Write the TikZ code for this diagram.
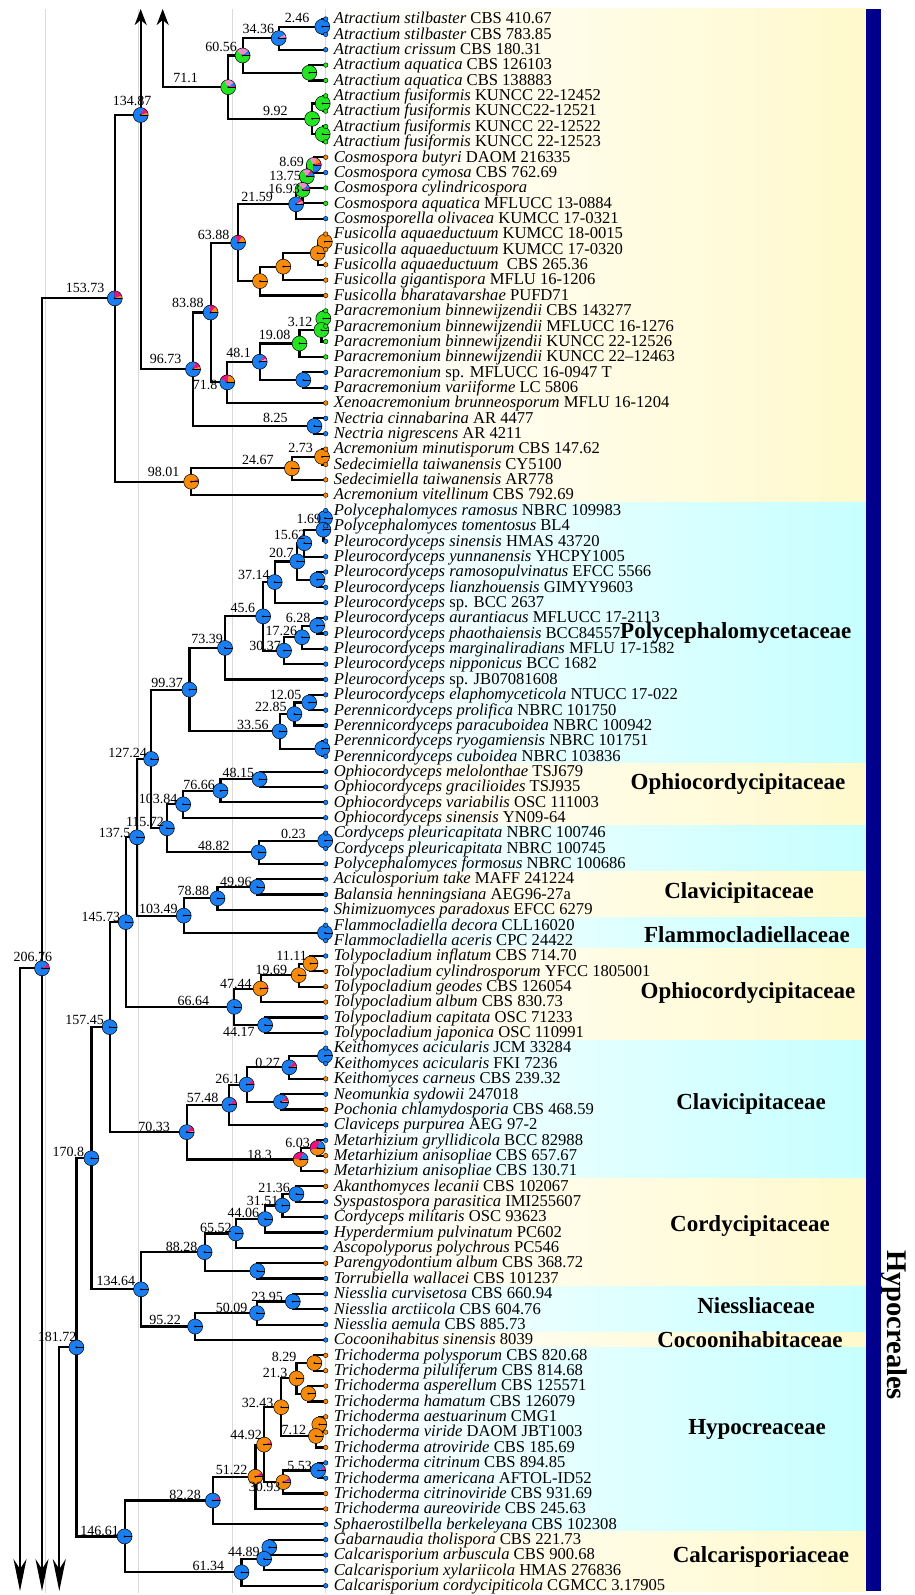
\documentclass[tikz,border=0pt]{standalone}
\usepackage{fontspec}
\setmainfont{Liberation Serif}
\usetikzlibrary{arrows.meta,calc}

\definecolor{pblue}{RGB}{26,125,240}
\definecolor{pgreen}{RGB}{36,228,36}
\definecolor{porange}{RGB}{246,138,12}
\definecolor{pmag}{RGB}{228,22,128}
\definecolor{ppink}{RGB}{238,142,200}
\definecolor{barblue}{RGB}{0,0,140}
\definecolor{bandyellow}{RGB}{255,249,204}
\definecolor{bandcyan}{RGB}{198,255,255}
\definecolor{gridgray}{RGB}{218,218,218}

\tikzset{
  branch/.style={draw=black, line width=2.2pt, line join=miter},
  uparrow/.style={branch, -{Stealth[length=16pt,width=12pt,inset=5pt]}},
  downarrow/.style={branch, -{Stealth[length=32pt,width=13pt,inset=10pt]}},
  taxon/.style={anchor=base west, inner sep=0pt, font=\fontsize{16.6}{16.6}\selectfont},
  numlab/.style={inner sep=0pt, font=\fontsize{14}{14}\selectfont},
  family/.style={inner sep=0pt, font=\bfseries\fontsize{23}{23}\selectfont},
  gridline/.style={draw=gridgray, line width=1pt},
}

% internal node: name, x position, first child, last child
\newcommand\inode[4]{\path let \p1=(#3), \p2=(#4) in ({#2*1pt},{0.5*(\y1+\y2)}) coordinate (#1);}
% elbow connectors from a node to its two children
\newcommand\kids[3]{\draw[branch] (#2) -| (#1) |- (#3);}
% ancestral-state pie: slices run clockwise from east
\newcommand\piechart[2]{%
  \begin{scope}[shift={(#1)}]
    \gdef\pieang{0}%
    \foreach \pc/\pf in {#2}{%
      \pgfmathsetmacro\pieend{\pieang-360*\pf}%
      \fill[fill=\pc] (0,0) -- (\pieang:7.5) arc[start angle=\pieang, end angle=\pieend, radius=7.5] -- cycle;
      \xdef\pieang{\pieend}%
    }%
    \draw[line width=0.5pt] (0,0) circle[radius=7.5];
    \draw[line width=0.7pt] (0,0) -- (7.5,0);
    \fill (0,0) circle[radius=1];
  \end{scope}}

\begin{document}
\begin{tikzpicture}[x=1pt,y=1pt]
\useasboundingbox (0,0) rectangle (915,-1595);
\fill[white] (0,0) rectangle (915,-1595);

% family shading bands
\foreach \ya/\yb/\bc in {9/502.84/bandyellow, 502.84/763.96/bandcyan, 763.96/825.4/bandyellow,
  825.4/871.48/bandcyan, 871.48/917.56/bandyellow, 917.56/948.28/bandcyan, 948.28/1040.44/bandyellow,
  1040.44/1178.68/bandcyan, 1178.68/1286.2/bandyellow, 1286.2/1332.28/bandcyan,
  1332.28/1347.64/bandyellow, 1347.64/1531.96/bandcyan, 1531.96/1591/bandyellow}
  \shade[left color=white, right color=\bc] (326,-\ya) rectangle (866,-\yb);

% time grid
\foreach \gx in {45.7,138.3,232.3,325.7} \draw[gridline] (\gx,-9) -- (\gx,-1593);

% order bar
\fill[barblue] (866,-9) rectangle (880.5,-1591);
\node[rotate=-90, inner sep=0pt, font=\bfseries\fontsize{28.5}{28.5}\selectfont] (order) at (894.5,-1325) {Hypocreales};

% family labels
\node[family, anchor=west] (fam1) at (620,-633.4) {Polycephalomycetaceae};
\node[family] (fam2) at (738,-784) {Ophiocordycipitaceae};
\node[family] (fam3) at (739,-893) {Clavicipitaceae};
\node[family] (fam4) at (747,-935) {Flammocladiellaceae};
\node[family] (fam5) at (748,-992.8) {Ophiocordycipitaceae};
\node[family] (fam6) at (751,-1104) {Clavicipitaceae};
\node[family] (fam7) at (750,-1226) {Cordycipitaceae};
\node[family] (fam8) at (756,-1306) {Niessliaceae};
\node[family] (fam9) at (750,-1340) {Cocoonihabitaceae};
\node[family] (fam10) at (757,-1429.8) {Hypocreaceae};
\node[family] (fam11) at (761,-1557.3) {Calcarisporiaceae};

% tips
\foreach \i in {1,...,103} \coordinate (L\i) at (325.7,{-(3.64+15.36*\i)});

% internal nodes
\inode{nA1}{322.3}{L1}{L2}
\inode{nA2}{278.7}{nA1}{L3}
\inode{nA3}{309.3}{L4}{L5}
\inode{nA4}{242.6}{nA2}{nA3}
\inode{nA5}{322.7}{L6}{L7}
\inode{nA6}{322.7}{L8}{L9}
\inode{nA7}{312.1}{nA5}{nA6}
\inode{nA8}{228.2}{nA4}{nA7}
\inode{nC1}{313.8}{L10}{L11}
\inode{nC2}{306.8}{nC1}{L12}
\inode{nC3}{302.5}{nC2}{L13}
\inode{nC4}{296.1}{nC3}{L14}
\inode{nF1}{324.8}{L15}{L16}
\inode{nF2}{317.7}{nF1}{L17}
\inode{nF3}{283.3}{nF2}{L18}
\inode{nF4}{260.0}{nF3}{L19}
\inode{nC5}{238.1}{nC4}{nF4}
\inode{nP1}{323.3}{L20}{L21}
\inode{nP2}{321.4}{nP1}{L22}
\inode{nP3}{299.5}{nP2}{L23}
\inode{nP4}{303.3}{L24}{L25}
\inode{nP5}{259.7}{nP3}{nP4}
\inode{nP6}{227.2}{nP5}{L26}
\inode{nC6}{210.6}{nC5}{nP6}
\inode{nN1}{314.4}{L27}{L28}
\inode{nC7}{193.0}{nC6}{nN1}
\inode{nS1}{322.0}{L29}{L30}
\inode{nS2}{291.9}{nS1}{L31}
\inode{nS3}{191.2}{nS2}{L32}
\coordinate (nR1) at (140.7,-115);
\inode{nR2}{114.8}{nR1}{nS3}
\coordinate (nR3) at (42.0,-968.3);
\inode{nQ1}{325.0}{L33}{L34}
\inode{nQ2}{323.4}{nQ1}{L35}
\inode{nQ3}{304.3}{nQ2}{L36}
\inode{nQ4}{317.3}{L37}{L38}
\inode{nQ5}{297.3}{nQ3}{nQ4}
\inode{nQ6}{274.7}{nQ5}{L39}
\inode{nQ7}{317.1}{L40}{L41}
\inode{nQ8}{302.0}{nQ7}{L42}
\inode{nQ9}{284.0}{nQ8}{L43}
\inode{nQ10}{263.1}{nQ6}{nQ9}
\inode{nQ11}{225.0}{nQ10}{L44}
\inode{nQ12}{309.2}{L45}{L46}
\inode{nQ13}{294.4}{nQ12}{L47}
\inode{nQ14}{322.3}{L48}{L49}
\inode{nQ15}{279.7}{nQ13}{nQ14}
\inode{nQ16}{189.4}{nQ11}{nQ15}
\inode{nO1}{259.6}{L50}{L51}
\inode{nO2}{220.5}{nO1}{L52}
\inode{nO3}{183.2}{nO2}{L53}
\inode{nO4}{325.2}{L54}{L55}
\inode{nO5}{258.7}{nO4}{L56}
\inode{nO6}{166.9}{nO3}{nO5}
\inode{nO7}{151.1}{nQ16}{nO6}
\inode{nK1}{257.2}{L57}{L58}
\inode{nK2}{217.5}{nK1}{L59}
\inode{nK3}{325.0}{L60}{L61}
\inode{nK4}{183.7}{nK2}{nK3}
\inode{nK5}{137.0}{nO7}{nK4}
\inode{nT1}{310.5}{L62}{L63}
\inode{nT2}{298.7}{nT1}{L64}
\inode{nT3}{260.6}{nT2}{L65}
\inode{nT4}{265.1}{L66}{L67}
\inode{nT5}{234.3}{nT3}{nT4}
\inode{nK6}{125.8}{nK5}{nT5}
\inode{nM1}{325.0}{L68}{L69}
\inode{nM2}{289.3}{nM1}{L70}
\inode{nM3}{281.0}{L71}{L72}
\inode{nM4}{246.7}{nM2}{nM3}
\inode{nM5}{229.3}{nM4}{L73}
\inode{nM6}{317.4}{L74}{L75}
\inode{nM7}{300.6}{nM6}{L76}
\inode{nM8}{186.7}{nM5}{nM7}
\inode{nK7}{109.7}{nK6}{nM8}
\inode{nY1}{296.4}{L77}{L78}
\inode{nY2}{282.5}{nY1}{L79}
\inode{nY3}{265.2}{nY2}{L80}
\inode{nY4}{235.8}{nY3}{L81}
\inode{nY5}{257.3}{L82}{L83}
\inode{nY6}{204.6}{nY4}{nY5}
\inode{nI1}{292.8}{L84}{L85}
\inode{nI2}{257.0}{nI1}{L86}
\inode{nI3}{195.1}{nI2}{L87}
\inode{nY7}{141.0}{nY6}{nI3}
\inode{nK8}{91.4}{nK7}{nY7}
\inode{nH1}{314.3}{L88}{L89}
\inode{nH2}{308.3}{L90}{L91}
\inode{nH3}{296.5}{nH1}{nH2}
\inode{nH4}{319.3}{L92}{L93}
\inode{nH5}{315.9}{nH4}{L94}
\inode{nH6}{281.2}{nH3}{nH5}
\inode{nH7}{318.1}{L95}{L96}
\inode{nH8}{283.3}{nH7}{L97}
\inode{nH9}{264.1}{nH6}{nH8}
\inode{nH10}{255.4}{nH9}{L98}
\inode{nH11}{212.8}{nH10}{L99}
\inode{nW1}{269.3}{L100}{L101}
\inode{nW2}{264.1}{nW1}{L102}
\inode{nW3}{241.5}{nW2}{L103}
\inode{nH12}{124.6}{nH11}{nW3}
\inode{nK9}{76.4}{nK8}{nH12}

% arrow ends of the cut branches
\coordinate (Tup1) at (140.7,-9);
\coordinate (Tup2) at (162.7,-9);
\coordinate (Bdn1) at (20,-1591);
\coordinate (Bdn2) at (42,-1591);
\coordinate (Bdn3) at (59.3,-1591);

% branches
\kids{nA1}{L1}{L2}
\kids{nA2}{nA1}{L3}
\kids{nA3}{L4}{L5}
\kids{nA4}{nA2}{nA3}
\kids{nA5}{L6}{L7}
\kids{nA6}{L8}{L9}
\kids{nA7}{nA5}{nA6}
\kids{nA8}{nA4}{nA7}
\kids{nC1}{L10}{L11}
\kids{nC2}{nC1}{L12}
\kids{nC3}{nC2}{L13}
\kids{nC4}{nC3}{L14}
\kids{nF1}{L15}{L16}
\kids{nF2}{nF1}{L17}
\kids{nF3}{nF2}{L18}
\kids{nF4}{nF3}{L19}
\kids{nC5}{nC4}{nF4}
\kids{nP1}{L20}{L21}
\kids{nP2}{nP1}{L22}
\kids{nP3}{nP2}{L23}
\kids{nP4}{L24}{L25}
\kids{nP5}{nP3}{nP4}
\kids{nP6}{nP5}{L26}
\kids{nC6}{nC5}{nP6}
\kids{nN1}{L27}{L28}
\kids{nC7}{nC6}{nN1}
\kids{nS1}{L29}{L30}
\kids{nS2}{nS1}{L31}
\kids{nS3}{nS2}{L32}
\kids{nR2}{nR1}{nS3}
\kids{nQ1}{L33}{L34}
\kids{nQ2}{nQ1}{L35}
\kids{nQ3}{nQ2}{L36}
\kids{nQ4}{L37}{L38}
\kids{nQ5}{nQ3}{nQ4}
\kids{nQ6}{nQ5}{L39}
\kids{nQ7}{L40}{L41}
\kids{nQ8}{nQ7}{L42}
\kids{nQ9}{nQ8}{L43}
\kids{nQ10}{nQ6}{nQ9}
\kids{nQ11}{nQ10}{L44}
\kids{nQ12}{L45}{L46}
\kids{nQ13}{nQ12}{L47}
\kids{nQ14}{L48}{L49}
\kids{nQ15}{nQ13}{nQ14}
\kids{nQ16}{nQ11}{nQ15}
\kids{nO1}{L50}{L51}
\kids{nO2}{nO1}{L52}
\kids{nO3}{nO2}{L53}
\kids{nO4}{L54}{L55}
\kids{nO5}{nO4}{L56}
\kids{nO6}{nO3}{nO5}
\kids{nO7}{nQ16}{nO6}
\kids{nK1}{L57}{L58}
\kids{nK2}{nK1}{L59}
\kids{nK3}{L60}{L61}
\kids{nK4}{nK2}{nK3}
\kids{nK5}{nO7}{nK4}
\kids{nT1}{L62}{L63}
\kids{nT2}{nT1}{L64}
\kids{nT3}{nT2}{L65}
\kids{nT4}{L66}{L67}
\kids{nT5}{nT3}{nT4}
\kids{nK6}{nK5}{nT5}
\kids{nM1}{L68}{L69}
\kids{nM2}{nM1}{L70}
\kids{nM3}{L71}{L72}
\kids{nM4}{nM2}{nM3}
\kids{nM5}{nM4}{L73}
\kids{nM6}{L74}{L75}
\kids{nM7}{nM6}{L76}
\kids{nM8}{nM5}{nM7}
\kids{nK7}{nK6}{nM8}
\kids{nY1}{L77}{L78}
\kids{nY2}{nY1}{L79}
\kids{nY3}{nY2}{L80}
\kids{nY4}{nY3}{L81}
\kids{nY5}{L82}{L83}
\kids{nY6}{nY4}{nY5}
\kids{nI1}{L84}{L85}
\kids{nI2}{nI1}{L86}
\kids{nI3}{nI2}{L87}
\kids{nY7}{nY6}{nI3}
\kids{nK8}{nK7}{nY7}
\kids{nH1}{L88}{L89}
\kids{nH2}{L90}{L91}
\kids{nH3}{nH1}{nH2}
\kids{nH4}{L92}{L93}
\kids{nH5}{nH4}{L94}
\kids{nH6}{nH3}{nH5}
\kids{nH7}{L95}{L96}
\kids{nH8}{nH7}{L97}
\kids{nH9}{nH6}{nH8}
\kids{nH10}{nH9}{L98}
\kids{nH11}{nH10}{L99}
\kids{nW1}{L100}{L101}
\kids{nW2}{nW1}{L102}
\kids{nW3}{nW2}{L103}
\kids{nH12}{nH11}{nW3}
\kids{nK9}{nK8}{nH12}

\draw[uparrow] (nC7) -| (Tup1);
\draw[uparrow] (nA8) -| (Tup2);
\draw[downarrow] (nR2) -| (Bdn2);
\draw[downarrow] (nR3) -| (Bdn1);
\draw[downarrow] (nK9) -| (Bdn3);

% ancestral state pies
\piechart{nA1}{pblue/1}
\piechart{nA2}{pblue/0.92, ppink/0.06, pmag/0.02}
\piechart{nA3}{pgreen/1}
\piechart{nA4}{pgreen/0.62, ppink/0.27, pblue/0.08, pmag/0.03}
\piechart{nA5}{pgreen/1}
\piechart{nA6}{pgreen/1}
\piechart{nA7}{pgreen/1}
\piechart{nA8}{pgreen/0.67, ppink/0.22, pblue/0.08, pmag/0.03}
\piechart{nC1}{pblue/0.28, pgreen/0.38, ppink/0.16, porange/0.12, pmag/0.06}
\piechart{nC2}{pgreen/0.66, ppink/0.18, pmag/0.07, pblue/0.09}
\piechart{nC3}{pgreen/0.68, ppink/0.2, pblue/0.08, pmag/0.04}
\piechart{nC4}{pblue/0.84, pmag/0.08, ppink/0.05, porange/0.03}
\piechart{nF1}{porange/1}
\piechart{nF2}{porange/1}
\piechart{nF3}{porange/1}
\piechart{nF4}{porange/1}
\piechart{nC5}{pblue/0.68, pmag/0.17, porange/0.15}
\piechart{nP1}{pgreen/1}
\piechart{nP2}{pgreen/1}
\piechart{nP3}{pgreen/1}
\piechart{nP4}{pblue/1}
\piechart{nP5}{pblue/0.86, pmag/0.07, ppink/0.05, porange/0.02}
\piechart{nP6}{pblue/0.58, pmag/0.21, porange/0.21}
\piechart{nC6}{pblue/0.72, pmag/0.15, porange/0.13}
\piechart{nN1}{pblue/1}
\piechart{nC7}{pblue/0.8, pmag/0.15, porange/0.05}
\piechart{nS1}{porange/1}
\piechart{nS2}{porange/1}
\piechart{nS3}{porange/0.94, pmag/0.06}
\piechart{nR1}{pblue/0.82, pmag/0.13, porange/0.05}
\piechart{nR2}{pblue/0.74, pmag/0.2, porange/0.06}
\piechart{nR3}{pblue/0.9, pmag/0.1}
\foreach \nn in {nQ1,nQ2,nQ3,nQ4,nQ5,nQ6,nQ7,nQ8,nQ9,nQ10,nQ11,nQ12,nQ13,nQ14,nQ15,nQ16,
  nO1,nO2,nO3,nO4,nO5,nO6,nO7,nK1,nK2,nK3,nK4,nK5,nK6,nT4,nT5,nM1,nK7,nK8,nK9,
  nY1,nY2,nY3,nY4,nY5,nY6,nY7,nI1,nI2,nI3,nW1,nW2,nW3,nH12}
  {\piechart{\nn}{pblue/1}}
\piechart{nT1}{porange/0.97, pmag/0.03}
\piechart{nT2}{porange/1}
\piechart{nT3}{porange/0.95, pmag/0.05}
\piechart{nM2}{pblue/0.86, pmag/0.12, porange/0.02}
\piechart{nM3}{pblue/0.88, pmag/0.1, porange/0.02}
\piechart{nM4}{pblue/0.9, pmag/0.1}
\piechart{nM5}{pblue/0.88, pmag/0.12}
\piechart{nM6}{porange/0.45, pmag/0.35, pblue/0.2}
\piechart{nM7}{porange/0.52, pmag/0.3, pblue/0.18}
\piechart{nM8}{pblue/0.85, pmag/0.13, porange/0.02}
\foreach \nn in {nH1,nH2,nH3,nH4,nH5,nH6} {\piechart{\nn}{porange/1}}
\piechart{nH7}{pblue/0.94, pmag/0.06}
\piechart{nH8}{porange/0.9, pmag/0.08, pblue/0.02}
\piechart{nH9}{porange/0.94, pmag/0.06}
\piechart{nH10}{porange/0.9, pmag/0.08, pblue/0.02}
\piechart{nH11}{pblue/0.92, pmag/0.08}

% tips and taxon names
\foreach \i/\col/\spname/\spid in {
1/pblue/Atractium stilbaster/CBS 410.67,
2/pblue/Atractium stilbaster/CBS 783.85,
3/pblue/Atractium crissum/CBS 180.31,
4/pgreen/Atractium aquatica/CBS 126103,
5/pgreen/Atractium aquatica/CBS 138883,
6/pgreen/Atractium fusiformis/KUNCC 22-12452,
7/pgreen/Atractium fusiformis/KUNCC22-12521,
8/pgreen/Atractium fusiformis/KUNCC 22-12522,
9/pgreen/Atractium fusiformis/KUNCC 22-12523,
10/porange/Cosmospora butyri/DAOM 216335,
11/pblue/Cosmospora cymosa/CBS 762.69,
12/pgreen/Cosmospora cylindricospora/{},
13/pgreen/Cosmospora aquatica/MFLUCC 13-0884,
14/pblue/Cosmosporella olivacea/KUMCC 17-0321,
15/porange/Fusicolla aquaeductuum/KUMCC 18-0015,
16/porange/Fusicolla aquaeductuum/KUMCC 17-0320,
17/porange/Fusicolla aquaeductuum/\ CBS 265.36,
18/porange/Fusicolla gigantispora/MFLU 16-1206,
19/porange/Fusicolla bharatavarshae/PUFD71,
20/pgreen/Paracremonium binnewijzendii/CBS 143277,
21/pgreen/Paracremonium binnewijzendii/MFLUCC 16-1276,
22/pgreen/Paracremonium binnewijzendii/KUNCC 22-12526,
23/pgreen/Paracremonium binnewijzendii/KUNCC 22–12463,
24/pblue/Paracremonium/sp. MFLUCC 16-0947 T,
25/pblue/Paracremonium variiforme/LC 5806,
26/porange/Xenoacremonium brunneosporum/MFLU 16-1204,
27/pblue/Nectria cinnabarina/AR 4477,
28/pblue/Nectria nigrescens/AR 4211,
29/porange/Acremonium minutisporum/CBS 147.62,
30/porange/Sedecimiella taiwanensis/CY5100,
31/porange/Sedecimiella taiwanensis/AR778,
32/porange/Acremonium vitellinum/CBS 792.69,
33/pblue/Polycephalomyces ramosus/NBRC 109983,
34/pblue/Polycephalomyces tomentosus/BL4,
35/pblue/Pleurocordyceps sinensis/HMAS 43720,
36/pblue/Pleurocordyceps yunnanensis/YHCPY1005,
37/pblue/Pleurocordyceps ramosopulvinatus/EFCC 5566,
38/pblue/Pleurocordyceps lianzhouensis/GIMYY9603,
39/pblue/Pleurocordyceps/sp. BCC 2637,
40/pblue/Pleurocordyceps aurantiacus/MFLUCC 17-2113,
41/pblue/Pleurocordyceps phaothaiensis/BCC84557,
42/pblue/Pleurocordyceps marginaliradians/MFLU 17-1582,
43/pblue/Pleurocordyceps nipponicus/BCC 1682,
44/pblue/Pleurocordyceps/sp. JB07081608,
45/pblue/Pleurocordyceps elaphomyceticola/NTUCC 17-022,
46/pblue/Perennicordyceps prolifica/NBRC 101750,
47/pblue/Perennicordyceps paracuboidea/NBRC 100942,
48/pblue/Perennicordyceps ryogamiensis/NBRC 101751,
49/pblue/Perennicordyceps cuboidea/NBRC 103836,
50/pblue/Ophiocordyceps melolonthae/TSJ679,
51/pblue/Ophiocordyceps gracilioides/TSJ935,
52/pblue/Ophiocordyceps variabilis/OSC 111003,
53/pblue/Ophiocordyceps sinensis/YN09-64,
54/pblue/Cordyceps pleuricapitata/NBRC 100746,
55/pblue/Cordyceps pleuricapitata/NBRC 100745,
56/pblue/Polycephalomyces formosus/NBRC 100686,
57/pblue/Aciculosporium take/MAFF 241224,
58/pblue/Balansia henningsiana/AEG96-27a,
59/pblue/Shimizuomyces paradoxus/EFCC 6279,
60/pblue/Flammocladiella decora/CLL16020,
61/pblue/Flammocladiella aceris/CPC 24422,
62/pblue/Tolypocladium inflatum/CBS 714.70,
63/porange/Tolypocladium cylindrosporum/YFCC 1805001,
64/porange/Tolypocladium geodes/CBS 126054,
65/porange/Tolypocladium album/CBS 830.73,
66/pblue/Tolypocladium capitata/OSC 71233,
67/pblue/Tolypocladium japonica/OSC 110991,
68/pblue/Keithomyces acicularis/JCM 33284,
69/pblue/Keithomyces acicularis/FKI 7236,
70/porange/Keithomyces carneus/CBS 239.32,
71/pblue/Neomunkia sydowii/247018,
72/porange/Pochonia chlamydosporia/CBS 468.59,
73/pblue/Claviceps purpurea/AEG 97-2,
74/pblue/Metarhizium gryllidicola/BCC 82988,
75/porange/Metarhizium anisopliae/CBS 657.67,
76/porange/Metarhizium anisopliae/CBS 130.71,
77/porange/Akanthomyces lecanii/CBS 102067,
78/pblue/Syspastospora parasitica/IMI255607,
79/pblue/Cordyceps militaris/OSC 93623,
80/pblue/Hyperdermium pulvinatum/PC602,
81/pblue/Ascopolyporus polychrous/PC546,
82/porange/Parengyodontium album/CBS 368.72,
83/pblue/Torrubiella wallacei/CBS 101237,
84/pblue/Niesslia curvisetosa/CBS 660.94,
85/pblue/Niesslia arctiicola/CBS 604.76,
86/pblue/Niesslia aemula/CBS 885.73,
87/pblue/Cocoonihabitus sinensis/8039,
88/porange/Trichoderma polysporum/CBS 820.68,
89/porange/Trichoderma piluliferum/CBS 814.68,
90/porange/Trichoderma asperellum/CBS 125571,
91/porange/Trichoderma hamatum/CBS 126079,
92/porange/Trichoderma aestuarinum/CMG1,
93/porange/Trichoderma viride/DAOM JBT1003,
94/porange/Trichoderma atroviride/CBS 185.69,
95/pblue/Trichoderma citrinum/CBS 894.85,
96/pblue/Trichoderma americana/AFTOL-ID52,
97/porange/Trichoderma citrinoviride/CBS 931.69,
98/porange/Trichoderma aureoviride/CBS 245.63,
99/pblue/Sphaerostilbella berkeleyana/CBS 102308,
100/pblue/Gabarnaudia tholispora/CBS 221.73,
101/pblue/Calcarisporium arbuscula/CBS 900.68,
102/pblue/Calcarisporium xylariicola/HMAS 276836,
103/pblue/Calcarisporium cordycipiticola/CGMCC 3.17905}
{
  \fill[fill=\col, draw=black, line width=0.4pt] (L\i) circle[radius=2.3];
  \node[taxon] (T\i) at ($(L\i)+(8,-4.8)$) {\textit{\spname} \spid};
}

% node ages
\foreach \lx/\ly/\lab [count=\k] in {
297/18.3/2.46, 258.3/29.3/34.36, 221.2/46.7/60.56, 185.5/78.3/71.1, 132/101/134.87,
275.3/111/9.92, 291.7/162.3/8.69, 285/175.7/13.75, 284/189/16.93, 257/196.7/21.59,
213.7/235/63.88, 85/288.3/153.73, 187.8/303.3/83.88, 300/321.7/3.12, 274.7/335/19.08,
238.7/353.3/48.1, 165.5/359.3/96.73, 205/385/71.8, 275.3/417.7/8.25, 300.5/448.3/2.73,
257.8/460/24.67, 163.7/471.7/98.01, 308.8/519.3/1.69, 289.5/535/15.62, 281.3/553.3/20.7,
253.8/575/37.14, 242.8/608.3/45.6, 298/618.3/6.28, 281.3/631.2/17.26, 207.2/639.3/73.39,
265/646/30.37, 167.2/682.7/99.37, 285.7/695/12.05, 270.8/706.7/22.85, 252.8/725/33.56,
127.7/753.3/127.24, 238.3/773.3/48.15, 199.2/785/76.66, 158/799.3/103.84, 145/821.7/115.72,
114.7/832.7/137.5, 293.3/834/0.23, 213.8/846/48.82, 235.8/881.7/49.96, 193.3/890.7/78.88,
158.3/909.3/103.49, 100.8/916.7/145.73, 291.7/955.7/11.11, 32.8/956.7/206.76, 271.3/970/19.69,
235.8/984/47.44, 193.3/1001/66.64, 84.7/1020/157.45, 238.8/1031.7/44.17, 267.7/1063.3/0.27,
227.5/1079.3/26.1, 202.5/1098.3/57.48, 154.2/1126.7/70.33, 297.5/1143.3/6.03, 259.5/1155/18.3,
68.3/1151.7/170.8, 274.2/1188.3/21.36, 262.5/1200.7/31.51, 243.3/1213.3/44.06, 215.8/1228.3/65.52,
181.7/1246.7/88.28, 115.8/1281/134.64, 267.2/1296.7/23.95, 231.7/1307.7/50.09, 165.2/1320/95.22,
57.2/1336.7/181.72, 284.2/1356.7/8.29, 275/1373.3/21.3, 257.5/1402.7/32.43, 293.8/1430/7.12,
246.2/1435/44.92, 299.5/1466/5.53, 231.7/1470/51.22, 264.7/1486.7/30.93, 185/1495/82.28,
99.7/1530.7/146.61, 243.8/1551.7/44.89, 208.3/1566/61.34}
  \node[numlab] (age\k) at (\lx,-\ly) {\lab};

\end{tikzpicture}
\end{document}
